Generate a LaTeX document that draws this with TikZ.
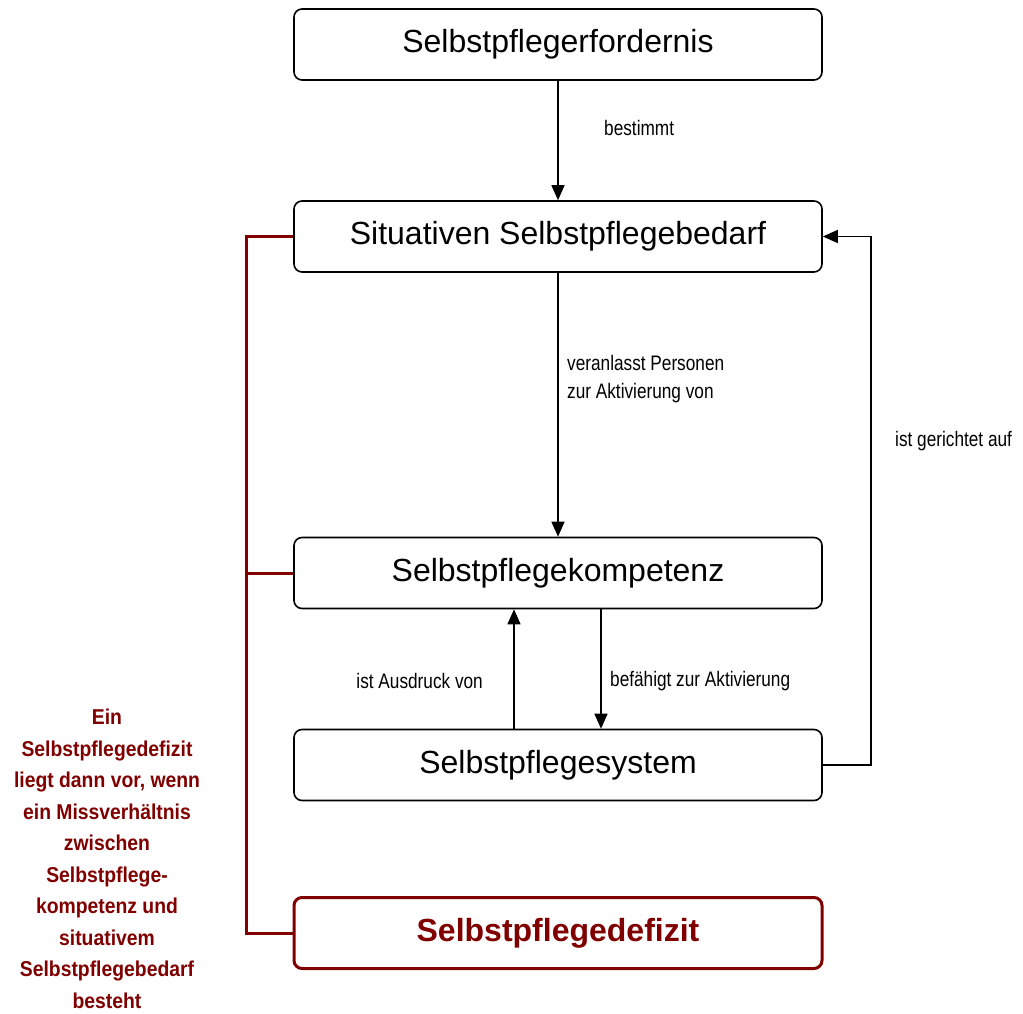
\documentclass[tikz,border=0pt]{standalone}
\usepackage{fontspec}
\setmainfont{Liberation Sans}
\newfontfamily\narrowfont[FakeStretch=0.82]{Liberation Sans}
\newfontfamily\redfont[FakeStretch=0.9]{Liberation Sans}
\usetikzlibrary{arrows.meta}
\definecolor{darkred}{HTML}{800000}
\tikzset{
  box/.style={draw=black, line width=1.6pt, rounded corners=8pt, fill=white,
    minimum width=528pt, minimum height=71pt, inner sep=0pt,
    font=\fontsize{32}{38}\selectfont},
  redbox/.style={box, draw=darkred, line width=3pt, text=darkred,
    font=\fontsize{32}{38}\selectfont\bfseries},
  conn/.style={line width=1.4pt, -{Triangle[length=15pt,width=13pt]}},
  redline/.style={draw=darkred, line width=3pt},
  lbl/.style={inner sep=0pt, font=\narrowfont\fontsize{21}{28}\selectfont, align=left},
}
\begin{document}
\begin{tikzpicture}[x=1pt, y=-1pt]
\useasboundingbox (0,0) rectangle (1023,1014);

\node[box] (b1) at (558,44.5) {Selbstpflegerfordernis};
\node[box] (b2) at (558,236.5) {Situativen Selbstpflegebedarf};
\node[box] (b3) at (558,573) {Selbstpflegekompetenz};
\node[box] (b4) at (558,765) {Selbstpflegesystem};
\node[redbox] (b5) at (558,933) {Selbstpflegedefizit};

\draw[conn] (b1.south) -- (b2.north);
\draw[conn] (b2.south) -- (b3.north);
\draw[conn] ([xshift=-44pt]b4.north) -- ([xshift=-44pt]b3.south);
\draw[conn] ([xshift=43pt]b3.south) -- ([xshift=43pt]b4.north);
\draw[conn] (b4.east) -- ++(48,0) |- (b2.east);

\node[lbl, anchor=west] (l1) at (604,128) {bestimmt};
\node[lbl, anchor=west] (l2) at (567,379) {veranlasst Personen\\zur Aktivierung von};
\node[lbl, anchor=east] (l3) at (483,681) {ist Ausdruck von};
\node[lbl, anchor=west] (l4) at (610,681) {befähigt zur Aktivierung};
\node[lbl, anchor=west] (l5) at (895,441) {ist gerichtet auf};

\coordinate (rl) at (246,0);
\draw[redline, line join=miter] (b2.west) -- (b2.west -| rl) -- (b5.west -| rl) -- (b5.west);
\draw[redline] (b3.west) -- (b3.west -| rl);

\node[inner sep=0pt, align=center, text=darkred,
  font=\redfont\bfseries\fontsize{21.5}{31.5}\selectfont] (note) at (107,859)
  {Ein\\Selbstpflegedefizit\\liegt dann vor, wenn\\ein Missverhältnis\\zwischen\\Selbstpflege-\\kompetenz und\\situativem\\Selbstpflegebedarf\\besteht};
\end{tikzpicture}
\end{document}
